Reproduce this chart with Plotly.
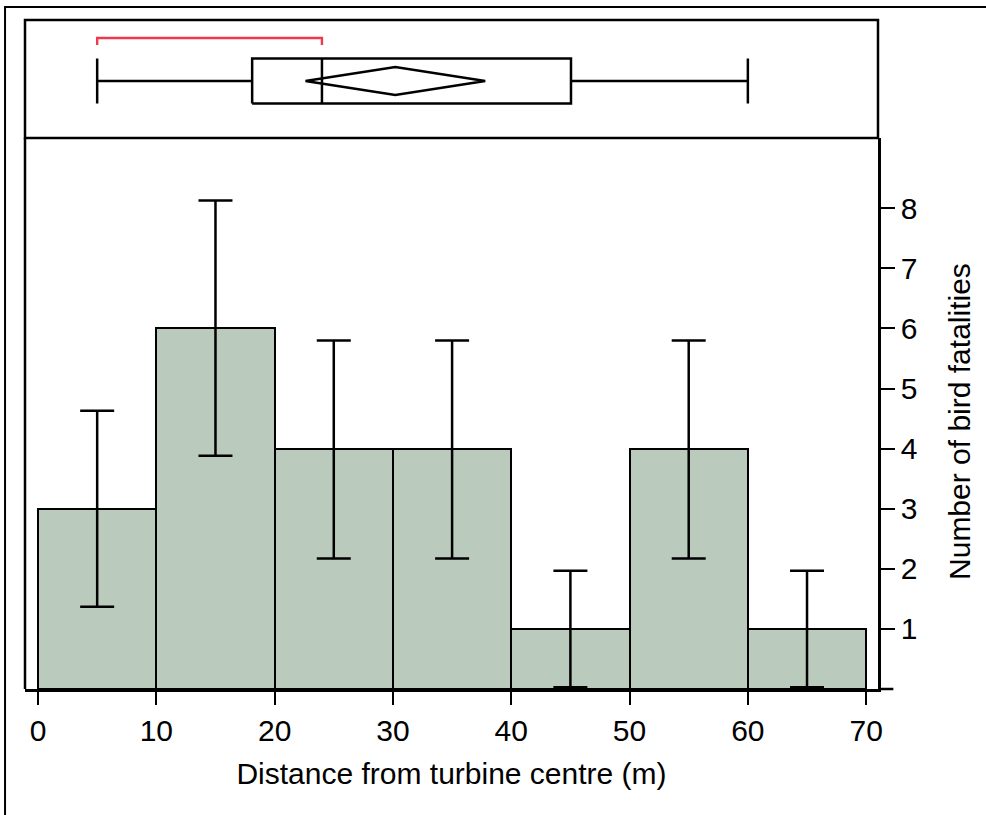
import plotly.graph_objects as go

# ---- data ----
bin_edges = [0, 10, 20, 30, 40, 50, 60, 70]
counts = [3, 6, 4, 4, 1, 4, 1]
ci_low = [1.37, 3.88, 2.17, 2.17, 0.03, 2.17, 0.03]
ci_high = [4.63, 8.13, 5.80, 5.80, 1.97, 5.80, 1.97]

# box plot summary (distance, m)
whisker_min = 5.0
q1 = 18.1
median = 24.0
q3 = 45.05
whisker_max = 60.0
mean = 30.2
mean_ci_low = 22.6
mean_ci_high = 37.8
shortest_half = [5.0, 24.0]

x_ticks = [0, 10, 20, 30, 40, 50, 60, 70]
y_ticks = [1, 2, 3, 4, 5, 6, 7, 8]

x_title = "Distance from turbine centre (m)"
y_title = "Number of bird fatalities"

# ---- derived ----
centers = [(a + b) / 2 for a, b in zip(bin_edges[:-1], bin_edges[1:])]
widths = [b - a for a, b in zip(bin_edges[:-1], bin_edges[1:])]
err_plus = [h - c for h, c in zip(ci_high, counts)]
err_minus = [c - l for c, l in zip(counts, ci_low)]

FONT = "Liberation Sans, Arial, sans-serif"
BAR_COLOR = "#bacbbd"
LW = 2.5
split = 0.8236

fig = go.Figure()

fig.add_trace(go.Bar(
    x=centers, y=counts, width=widths,
    marker=dict(color=BAR_COLOR, line=dict(color="black", width=2)),
    error_y=dict(type="data", symmetric=False, array=err_plus, arrayminus=err_minus,
                 color="black", thickness=2.5, width=17),
    xaxis="x", yaxis="y", showlegend=False, hoverinfo="skip",
))

# ---- box plot on top panel ----
bh = 1.0   # box half height
dh = 0.622  # diamond half height
box_x = [q1, q3, q3, q1, q1, None, median, median, None,
         whisker_min, q1, None, q3, whisker_max, None,
         whisker_min, whisker_min, None, whisker_max, whisker_max]
box_y = [-bh, -bh, bh, bh, -bh, None, -bh, bh, None,
         0, 0, None, 0, 0, None,
         -bh, bh, None, -bh, bh]
fig.add_trace(go.Scatter(x=box_x, y=box_y, mode="lines",
                         line=dict(color="black", width=LW),
                         xaxis="x2", yaxis="y2", showlegend=False, hoverinfo="skip"))
fig.add_trace(go.Scatter(
    x=[mean_ci_low, mean, mean_ci_high, mean, mean_ci_low],
    y=[0, dh, 0, -dh, 0], mode="lines",
    line=dict(color="black", width=LW),
    xaxis="x2", yaxis="y2", showlegend=False, hoverinfo="skip"))
fig.add_trace(go.Scatter(
    x=[shortest_half[0], shortest_half[0], shortest_half[1], shortest_half[1]],
    y=[1.6, 1.911, 1.911, 1.6], mode="lines",
    line=dict(color="#ee3a4c", width=2.4),
    xaxis="x2", yaxis="y2", showlegend=False, hoverinfo="skip"))

xrange = [-1.1, 71.0]

fig.update_layout(
    width=986, height=815, autosize=False,
    margin=dict(l=25, r=108, t=20, b=126),
    paper_bgcolor="white", plot_bgcolor="white",
    font=dict(family=FONT, size=30, color="black"),
    bargap=0,
    xaxis=dict(domain=[0, 1], range=xrange, anchor="y",
               tickmode="array", tickvals=x_ticks,
               ticks="outside", ticklen=13, tickwidth=2, tickcolor="black",
               showline=True, linecolor="black", linewidth=LW,
               showgrid=False, zeroline=False,
               title=dict(text=x_title, standoff=18, font=dict(size=30))),
    yaxis=dict(domain=[0, split], range=[0, 9.17], side="right", anchor="x",
               tickmode="array", tickvals=y_ticks,
               ticks="outside", ticklen=14, tickwidth=2, tickcolor="black",
               showline=True, linecolor="black", linewidth=LW,
               showgrid=False, zeroline=False),
    xaxis2=dict(domain=[0, 1], range=xrange, anchor="y2", visible=False),
    yaxis2=dict(domain=[split, 1], range=[-2.533, 2.711], anchor="x2", visible=False),
    annotations=[
        dict(text=y_title, xref="paper", yref="paper", x=1.0961, y=0.4006,
             xanchor="center", yanchor="middle", textangle=-90, showarrow=False,
             font=dict(size=30, family=FONT, color="black")),
    ],
    shapes=[
        # top panel frame
        dict(type="rect", xref="paper", yref="paper", x0=0, x1=1, y0=split, y1=1,
             line=dict(color="black", width=LW)),
        # left border of histogram panel
        dict(type="line", xref="paper", yref="paper", x0=0, x1=0, y0=0, y1=split,
             line=dict(color="black", width=LW)),
        # x axis line extension beyond right axis
        dict(type="line", xref="paper", yref="paper", x0=1, x1=1.018, y0=0, y1=0,
             line=dict(color="black", width=LW)),
        # outer image frame
        dict(type="rect", xref="paper", yref="paper", x0=-0.0234, x1=1.3, y0=-0.3, y1=1.0194,
             line=dict(color="black", width=2)),
    ],
)

fig.write_html("out.html")
